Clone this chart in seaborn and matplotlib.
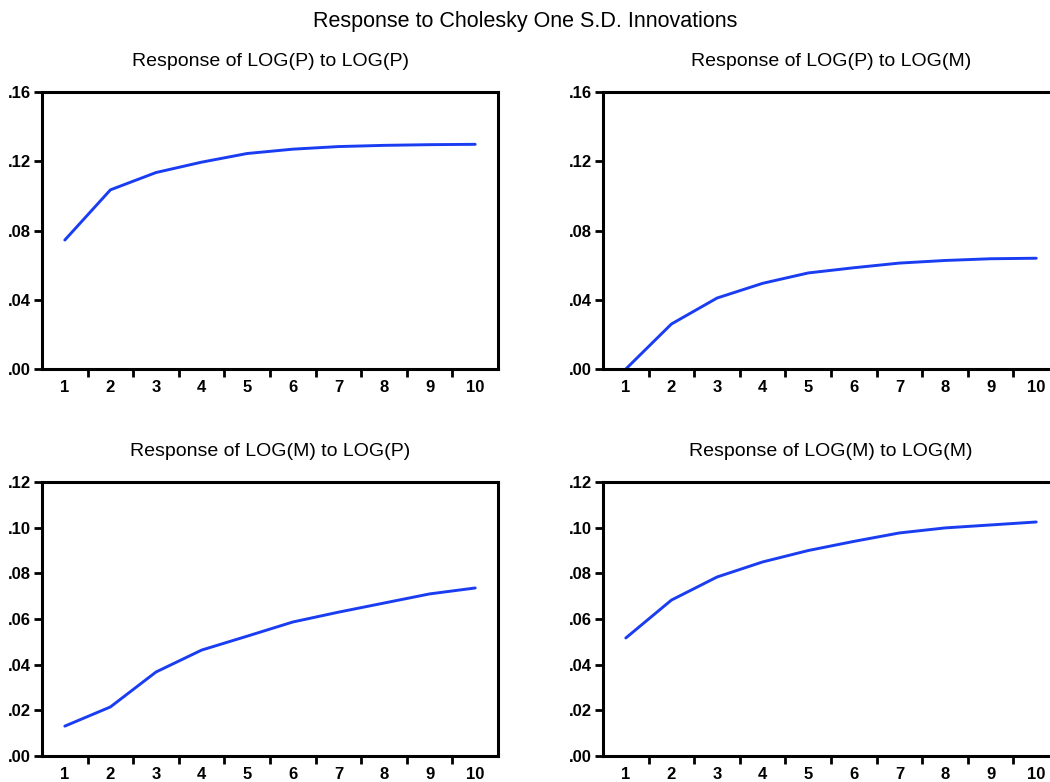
import matplotlib
matplotlib.use("Agg")
import matplotlib.pyplot as plt
import matplotlib.ticker as mticker
import seaborn as sns
import pandas as pd

periods = [1, 2, 3, 4, 5, 6, 7, 8, 9, 10]
p_to_p = [0.0745, 0.1035, 0.1135, 0.1195, 0.1245, 0.1270, 0.1285, 0.1292, 0.1296, 0.1298]
p_to_m = [0.000, 0.026, 0.041, 0.0495, 0.0555, 0.0585, 0.0612, 0.0627, 0.0637, 0.0640]
m_to_p = [0.0131, 0.0215, 0.0368, 0.0464, 0.0525, 0.0587, 0.0630, 0.0670, 0.0710, 0.0736]
m_to_m = [0.0517, 0.0683, 0.0784, 0.0850, 0.0900, 0.0940, 0.0977, 0.0999, 0.1012, 0.1025]

titles = ["Response of LOG(P) to LOG(P)", "Response of LOG(P) to LOG(M)",
          "Response of LOG(M) to LOG(P)", "Response of LOG(M) to LOG(M)"]
series = [p_to_p, p_to_m, m_to_p, m_to_m]
ylims = [(0, 0.16), (0, 0.16), (0, 0.12), (0, 0.12)]
ysteps = [0.04, 0.04, 0.02, 0.02]
suptitle = "Response to Cholesky One S.D. Innovations"

sns.set_style("ticks")
plt.rcParams["font.family"] = ["Liberation Sans", "DejaVu Sans"]
plt.rcParams["text.color"] = "black"
plt.rcParams["xtick.labelcolor"] = "black"
plt.rcParams["ytick.labelcolor"] = "black"

fig = plt.figure(figsize=(10.5, 7.82), dpi=100)
W = 0.4343
positions = [
    (0.0400, 0.5281, W, 0.3542),
    (0.5743, 0.5281, W, 0.3542),
    (0.0400, 0.0332, W, 0.3504),
    (0.5743, 0.0332, W, 0.3504),
]

def fmt(v, pos):
    s = f"{v:.2f}"
    if s.startswith("0"):
        s = s[1:]
    return s

for i in range(4):
    ax = fig.add_axes(positions[i])
    df = pd.DataFrame({"period": periods, "value": series[i]})
    sns.lineplot(data=df, x="period", y="value", ax=ax, color="#1a3df2", linewidth=2.1)
    ax.set_xlim(0.5, 10.5)
    ax.set_ylim(*ylims[i])
    ax.set_xlabel("")
    ax.set_ylabel("")
    ax.set_xticks(periods)
    ax.set_xticks([p + 0.5 for p in periods[:-1]], minor=True)
    ax.yaxis.set_major_locator(mticker.MultipleLocator(ysteps[i]))
    ax.yaxis.set_major_formatter(mticker.FuncFormatter(fmt))
    ax.tick_params(axis="x", which="major", length=0, pad=8, labelsize=12, labelcolor="black")
    ax.tick_params(axis="x", which="minor", length=6, width=2, direction="out", color="black")
    ax.tick_params(axis="y", which="major", length=6, width=2, direction="out", pad=2,
                   labelsize=12, color="black", labelcolor="black")
    for lab in ax.get_xticklabels() + ax.get_yticklabels():
        lab.set_fontweight("bold")
    for sp in ax.spines.values():
        sp.set_visible(True)
        sp.set_linewidth(2.2)
        sp.set_color("black")
    ax.set_title(titles[i], fontsize=14, pad=19, color="black")

fig.text(0.5, 0.973, suptitle, ha="center", va="center", fontsize=15.5, color="black")
fig.savefig("out.png", dpi=100)
